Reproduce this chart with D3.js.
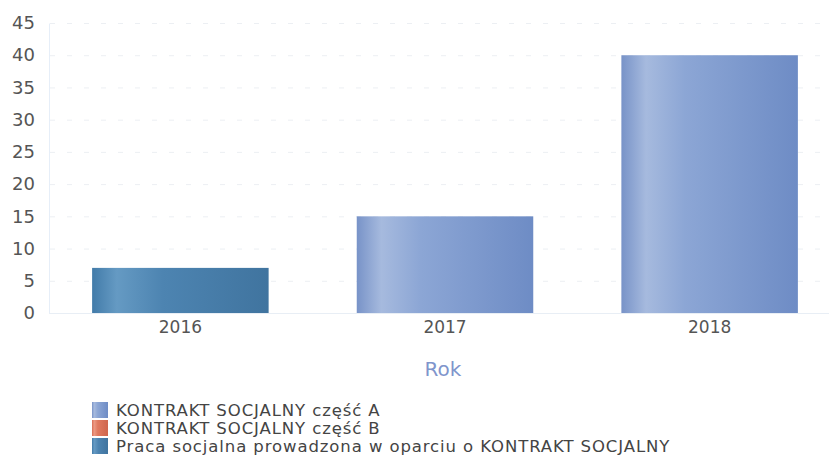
<!DOCTYPE html>
<html><head><meta charset="utf-8">
<script src="https://cdn.jsdelivr.net/npm/d3@7/dist/d3.min.js"></script>
<style>body{margin:0;background:#fff}svg{display:block}text{font-family:"DejaVu Sans",sans-serif}</style>
</head><body><svg id="c" width="829" height="467"></svg>
<script>
const years = ["2016","2017","2018"];
const seriesNames = ["KONTRAKT SOCJALNY część A","KONTRAKT SOCJALNY część B","Praca socjalna prowadzona w oparciu o KONTRAKT SOCJALNY"];
const partA = [0,15,40];
const partB = [0,0,0];
const praca = [7,0,0];
const yTicks = [0,5,10,15,20,25,30,35,40,45];
const gradStops = [
  [["0","#7893c8"],["0.14","#a6bade"],["0.36","#8ca6d5"],["1","#6e8cc5"]],
  [["0","#d86e55"],["0.14","#ec9a84"],["0.36","#e07a60"],["1","#cf664d"]],
  [["0","#427ba9"],["0.14","#659ac3"],["0.4","#4d84b1"],["1","#40749f"]]
];
const axisTitle = "Rok";

const svg = d3.select("#c");
const x = d3.scaleBand().domain(years).range([48,842]).paddingInner(0.333).paddingOuter(0.1667);
const y = d3.scaleLinear().domain([0,45]).range([313,23]);

const defs = svg.append("defs");
gradStops.forEach((stops,i)=>{
  const g = defs.append("linearGradient").attr("id","g"+i).attr("x1","0").attr("x2","1").attr("y1","0").attr("y2","0");
  stops.forEach(s=>g.append("stop").attr("offset",s[0]).attr("stop-color",s[1]));
});

// grid
svg.append("g").selectAll("line").data(yTicks.slice(1)).join("line")
  .attr("x1",50).attr("x2",829).attr("y1",d=>y(d)+0.5).attr("y2",d=>y(d)+0.5)
  .attr("stroke","#eceff3").attr("stroke-dasharray","5,12");

// y axis
const ya = svg.append("g").attr("transform","translate(49,0)").call(d3.axisLeft(y).tickValues(yTicks).tickSize(0).tickPadding(14));
ya.select(".domain").attr("stroke","#e6eef8");
ya.selectAll("text").attr("font-size",18).attr("fill","#555").attr("font-family","DejaVu Sans, sans-serif");

// baseline
svg.append("line").attr("x1",49).attr("x2",829).attr("y1",y(0)+0.5).attr("y2",y(0)+0.5).attr("stroke","#e8eef5");

// stacked bars
const rows = years.map((yr,i)=>({year:yr, a:partA[i], b:partB[i], p:praca[i]}));
const stack = d3.stack().keys(["a","b","p"])(rows);
svg.append("g").selectAll("g").data(stack).join("g").attr("fill",(d,i)=>"url(#g"+i+")")
  .selectAll("rect").data(d=>d.filter(v=>v[1]-v[0]>0)).join("rect")
  .attr("x",d=>x(d.data.year)).attr("width",x.bandwidth())
  .attr("y",d=>y(d[1])).attr("height",d=>y(d[0])-y(d[1]));

// x axis
const xa = svg.append("g").attr("transform","translate(0,313)").call(d3.axisBottom(x).tickSize(0).tickPadding(8));
xa.select(".domain").remove();
xa.selectAll("text").attr("font-size",17).attr("fill","#555").attr("font-family","DejaVu Sans, sans-serif");

svg.append("text").attr("x",443).attr("y",376).attr("text-anchor","middle").attr("font-size",20).attr("fill","#7f95cc").text(axisTitle);

// legend
const lg = svg.append("g").attr("transform","translate(92,402)");
seriesNames.forEach((n,i)=>{
  const r = lg.append("g").attr("transform",`translate(0,${i*18})`);
  r.append("rect").attr("width",16).attr("height",16).attr("fill","url(#g"+i+")");
  r.append("text").attr("x",24).attr("y",14).attr("font-size",16.5).attr("letter-spacing",0.9).attr("fill","#444").text(n);
});
</script></body></html>
